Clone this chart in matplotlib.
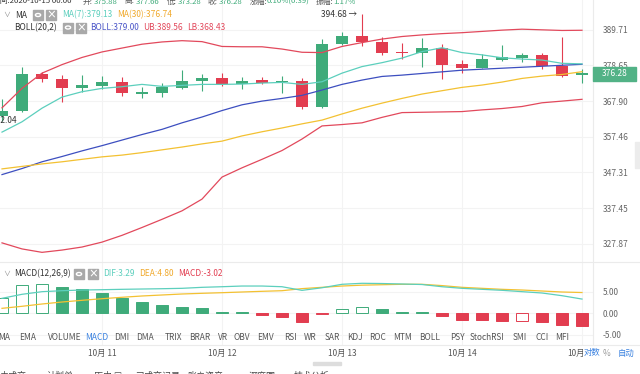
import matplotlib
matplotlib.use('agg')
import matplotlib.pyplot as plt
from matplotlib.lines import Line2D
from matplotlib.patches import Rectangle, Circle
from matplotlib.ticker import NullLocator

plt.rcParams['font.family'] = ['Noto Sans CJK SC', 'DejaVu Sans']

# 4h candles, last one is 2020-10-15 00:00
opens = [363.5, 364.9, 376.0, 374.5, 371.7, 372.5, 373.5, 370.1, 370.4, 371.9,
         374.0, 374.7, 373.0, 374.2, 373.5, 374.0, 366.2, 385.3, 387.8, 386.0,
         382.9, 382.4, 384.1, 379.0, 378.0, 380.4, 380.8, 381.8, 378.5, 375.88]
highs = [368.4, 378.3, 376.8, 375.7, 375.7, 375.5, 375.2, 372.0, 373.2, 377.4,
         376.0, 376.2, 375.2, 375.2, 375.4, 374.7, 386.7, 389.1, 394.68, 387.4,
         385.7, 387.1, 385.2, 380.3, 382.3, 384.9, 382.6, 382.6, 387.3, 377.66]
lows = [362.04, 364.8, 373.7, 367.7, 370.7, 371.5, 369.5, 368.9, 369.2, 371.4,
        371.0, 372.4, 371.4, 373.0, 370.4, 365.5, 366.0, 385.1, 384.6, 381.9,
        380.5, 378.3, 374.4, 376.2, 377.8, 379.9, 379.7, 377.6, 375.2, 373.28]
closes = [364.9, 376.0, 374.5, 371.7, 372.7, 373.5, 370.2, 370.7, 372.0, 374.0,
          374.7, 373.0, 374.0, 373.4, 374.0, 366.2, 385.3, 387.8, 386.0, 382.4,
          382.4, 384.1, 378.8, 378.0, 380.6, 381.1, 381.8, 378.6, 375.4, 376.28]

ma7 = [358.8, 361.8, 365.8, 369.1, 370.7, 371.7, 372.2, 372.9, 372.3, 372.6,
       372.9, 372.9, 373.0, 373.3, 373.5, 372.9, 373.7, 376.3, 378.3, 379.5,
       380.9, 382.9, 384.1, 382.6, 381.9, 381.0, 380.6, 380.3, 379.3, 379.13]
ma30 = [348.3, 349.0, 349.7, 350.3, 351.0, 351.7, 352.2, 352.9, 353.7, 354.5,
        355.4, 356.2, 357.7, 358.9, 360.0, 361.2, 362.3, 364.1, 365.8, 367.3,
        368.7, 370.0, 371.0, 372.0, 372.7, 373.6, 374.7, 375.4, 375.9, 376.74]
boll_mid = [346.7, 348.4, 350.3, 351.8, 353.4, 354.9, 356.5, 358.1, 359.6, 361.5,
            363.2, 365.1, 366.8, 367.9, 368.7, 369.6, 371.2, 372.9, 374.2, 375.3,
            375.7, 376.2, 376.7, 377.2, 377.5, 377.8, 378.1, 378.4, 378.7, 379.00]
boll_ub = [365.9, 371.7, 376.3, 378.9, 381.1, 382.8, 384.0, 385.2, 385.9, 386.3,
           386.0, 384.5, 384.4, 384.4, 383.7, 382.7, 382.6, 384.5, 385.7, 386.8,
           387.6, 388.1, 388.5, 388.8, 389.2, 389.6, 389.9, 389.7, 389.5, 389.56]
boll_lb = [328.1, 326.5, 325.6, 326.2, 327.0, 328.3, 330.1, 332.2, 334.4, 336.7,
           339.9, 346.0, 348.6, 351.0, 353.5, 356.8, 360.6, 361.0, 361.5, 363.1,
           364.5, 364.6, 364.7, 364.8, 365.3, 365.7, 366.3, 367.4, 367.9, 368.43]

dif = [3.46, 4.39, 4.99, 5.22, 5.38, 5.45, 5.54, 5.61, 5.68, 5.77,
       6.00, 6.14, 6.30, 6.30, 6.14, 5.30, 5.90, 6.70, 6.93, 6.88,
       6.77, 6.65, 6.14, 5.77, 5.54, 5.31, 5.00, 4.69, 4.07, 3.29]
dea = [1.15, 1.62, 2.15, 2.61, 3.00, 3.37, 3.70, 4.00, 4.23, 4.46,
       4.62, 4.76, 4.92, 5.08, 5.22, 5.70, 6.00, 6.30, 6.50, 6.60,
       6.70, 6.70, 6.40, 6.00, 5.77, 5.54, 5.38, 5.15, 4.92, 4.80]
macd = [3.46, 6.50, 6.77, 6.16, 5.54, 4.77, 3.61, 2.69, 1.92, 1.54,
        1.15, 0.38, 0.23, -0.40, -0.85, -2.08, -0.25, 1.00, 1.38, 0.92,
        0.30, 0.23, -0.62, -1.54, -1.60, -1.77, -1.72, -2.08, -2.70, -3.02]

price_ticks = [389.71, 378.65, 367.90, 357.46, 347.31, 337.45, 327.87]
macd_ticks = [5.0, 0.0, -5.0]
day_index = [5, 11, 17, 23, 29]
day_labels = ['10月 11', '10月 12', '10月 13', '10月 14', '10月']
indicators = ['MA', 'EMA', 'VOLUME', 'MACD', 'DMI', 'DMA', 'TRIX', 'BRAR', 'VR',
              'OBV', 'EMV', 'RSI', 'WR', 'SAR', 'KDJ', 'ROC', 'MTM', 'BOLL', 'PSY',
              'StochRSI', 'SMI', 'CCI', 'MFI']
tabs = ['未成交', '计划单', '历史 ☐', '已成交记录', '账户资产', '深度图', '技术分析']

# layout (pixels)
indicator_x = [4, 28, 65, 97, 122, 145, 173, 200, 223, 242, 265, 290, 310, 332,
               355, 378, 402, 430, 457, 487, 520, 542, 562]
tab_x = [0, 47, 94, 135, 188, 249, 294]

GREEN = '#3fab7a'
RED = '#e23d50'
TEAL = '#5ccfbd'
YELLOW = '#f3c132'
BLUE = '#3d4fc0'
BAND = '#e2495c'
GRAY = '#666666'
LINE = '#ebebeb'

W, H = 640, 374
fig = plt.figure(figsize=(6.4, 3.74), dpi=100)
fig.patch.set_facecolor('white')


def ptext(x, y, s, **kw):
    kw.setdefault('fontsize', 6)
    kw.setdefault('va', 'center')
    kw.setdefault('color', '#333333')
    return fig.text(x / W, 1 - y / H, s, **kw)


def icon_box(x, y, kind):
    fig.patches.append(Rectangle((x / W, 1 - (y + 5) / H), 10 / W, 10 / H,
                                 transform=fig.transFigure, color='#a9a9a9',
                                 zorder=3))
    if kind == 'gear':
        fig.patches.append(Circle(((x + 5) / W, 1 - y / H), 2.6 / W,
                                  transform=fig.transFigure, facecolor='#a9a9a9',
                                  edgecolor='white', lw=1.0, zorder=4))
    else:
        ptext(x + 5, y, '×', color='white', ha='center', fontsize=7,
              fontweight='bold', zorder=4)


def hline(y, x0=0, x1=W, color=LINE):
    fig.lines.append(Line2D([x0 / W, x1 / W], [1 - y / H, 1 - y / H],
                            transform=fig.transFigure, color=color, lw=0.8))


def vline(x, y0, y1, color=LINE):
    fig.lines.append(Line2D([x / W, x / W], [1 - y0 / H, 1 - y1 / H],
                            transform=fig.transFigure, color=color, lw=0.8))


n = len(closes)
xs = list(range(n))

# ---- price panel
ax = fig.add_axes([0, 1 - 262 / H, 593 / W, 262 / H])
ax.set_yscale('log')
ax.set_xlim(-0.1, 29.55)
ax.set_ylim(323.07, 399.2)
for k in xs:
    o, c = opens[k], closes[k]
    col = GREEN if c >= o else RED
    ax.vlines(k, lows[k], highs[k], color=col, lw=0.8, zorder=2)
    ax.bar(k, max(abs(c - o), 0.3), bottom=min(o, c), width=0.62, color=col,
           zorder=3)
ax.plot(xs, boll_ub, color=BAND, lw=0.9, zorder=4)
ax.plot(xs, boll_lb, color=BAND, lw=0.9, zorder=4)
ax.plot(xs, boll_mid, color=BLUE, lw=0.9, zorder=4)
ax.plot(xs, ma30, color=YELLOW, lw=0.9, zorder=4)
ax.plot(xs, ma7, color=TEAL, lw=0.9, zorder=4)

ax.yaxis.tick_right()
ax.set_yticks(price_ticks)
ax.set_yticklabels([f'{v:.2f}' for v in price_ticks])
ax.yaxis.set_minor_locator(NullLocator())
ax.set_xticks(day_index)
ax.tick_params(axis='y', length=0, pad=7, labelsize=6, labelcolor=GRAY)
ax.tick_params(axis='x', length=0, labelbottom=False)
ax.grid(color='#f3f3f3', lw=0.8)
for s in ax.spines.values():
    s.set_visible(False)

hi_k = highs.index(max(highs))
lo_k = lows.index(min(lows))
ax.annotate(f'{max(highs):.2f} →', (hi_k - 0.25, max(highs)), ha='right',
            va='center', fontsize=6, color='#333333')
ax.annotate(f'{min(lows):.2f}', (lo_k + 0.75, min(lows)), ha='right',
            va='center', fontsize=6, color='#333333')

# ---- MACD panel
axm = fig.add_axes([0, 1 - 345 / H, 593 / W, 83 / H])
axm.set_xlim(-0.1, 29.55)
axm.set_ylim(-7.32, 11.85)
for k in xs:
    v = macd[k]
    col = GREEN if v >= 0 else RED
    hollow = k == 0 or v > macd[k - 1]
    axm.bar(k, v, width=0.62, facecolor='white' if hollow else col,
            edgecolor=col, lw=0.7, zorder=3)
axm.plot(xs, dea, color=YELLOW, lw=0.9, zorder=4)
axm.plot(xs, dif, color=TEAL, lw=0.9, zorder=4)
axm.yaxis.tick_right()
axm.set_yticks(macd_ticks)
axm.set_yticklabels([f'{v:.2f}' for v in macd_ticks])
axm.set_xticks(day_index)
axm.tick_params(axis='y', length=0, pad=7, labelsize=6, labelcolor=GRAY)
axm.tick_params(axis='x', length=0, labelbottom=False)
axm.grid(color='#f3f3f3', lw=0.8)
for s in axm.spines.values():
    s.set_visible(False)

# frame lines
hline(262)
hline(345)
vline(593, 0, 345)

# ---- header rows
ptext(-8, 1.5, '时间:2020-10-15 00:00', fontsize=5.6)
head = [(83, '开:', f'{opens[-1]:.2f}'), (125, '高:', f'{highs[-1]:.2f}'),
        (167, '低:', f'{lows[-1]:.2f}'), (208, '收:', f'{closes[-1]:.2f}'),
        (250, '涨幅:', '0.10%(0.39)'), (316, '振幅:', '1.17%')]
for x, lab, val in head:
    ptext(x, 1.5, lab, color='#555555', fontsize=5.6)
    ptext(x + (17 if len(lab) > 2 else 11), 1.5, val, color=GREEN, fontsize=5.6)

ptext(3, 15, '∨', color='#888888', fontsize=5)
ptext(15, 15, 'MA')
icon_box(33, 15, 'gear')
icon_box(46, 15, 'x')
ptext(62, 15, f'MA(7):{ma7[-1]:.2f}', color=TEAL)
ptext(117, 15, f'MA(30):{ma30[-1]:.2f}', color='#f0a92c')

ptext(14, 27.5, 'BOLL(20,2)')
icon_box(63, 27.5, 'gear')
icon_box(76, 27.5, 'x')
ptext(90, 27.5, f'BOLL:{boll_mid[-1]:.2f}', color='#4a55c8')
ptext(143, 27.5, f'UB:{boll_ub[-1]:.2f}', color=BAND)
ptext(187, 27.5, f'LB:{boll_lb[-1]:.2f}', color=BAND)

ptext(3, 274, '∨', color='#888888', fontsize=5)
ptext(14, 274, 'MACD(12,26,9)')
icon_box(74, 274, 'gear')
icon_box(88, 274, 'x')
ptext(103, 274, f'DIF:{dif[-1]:.2f}', color=TEAL)
ptext(139, 274, f'DEA:{dea[-1]:.2f}', color='#f0a92c')
ptext(178, 274, f'MACD:{macd[-1]:.2f}', color=RED)

# last price box
fig.patches.append(Rectangle((593 / W, 1 - 81 / H), 43 / W, 14 / H,
                             transform=fig.transFigure, color='#52b286',
                             zorder=5))
ptext(614.5, 74, f'{closes[-1]:.2f}', color='white', ha='center', zorder=6)

# right edge handle
fig.patches.append(Rectangle((635 / W, 1 - 168 / H), 5 / W, 26 / H,
                             transform=fig.transFigure, color='#ececec',
                             zorder=5))

# indicator switcher row
for name, x in zip(indicators, indicator_x):
    ptext(x, 337.5, name, ha='center',
          color='#3b82e0' if name == 'MACD' else '#555555')

# date row
for k, lab in zip(day_index, day_labels):
    if k == day_index[-1]:
        ptext(567, 353, lab, color='#555555')
    else:
        ptext(2 + 20 * k, 353, lab, ha='center', color='#555555')
ptext(584, 353, '对数', color='#3b82e0')
ptext(603, 353, '%', color='#999999')
ptext(618, 353, '自动', color='#3b82e0')

# scroll thumb
fig.patches.append(Rectangle((313 / W, 1 - 364.5 / H), 28 / W, 3 / H,
                             transform=fig.transFigure, color='#dddddd',
                             zorder=3))

# bottom tabs, mostly cut off
for name, x in zip(tabs, tab_x):
    ptext(x, 376.5, name, color='#444444', fontsize=6.5)

fig.savefig('out.png', dpi=100)
